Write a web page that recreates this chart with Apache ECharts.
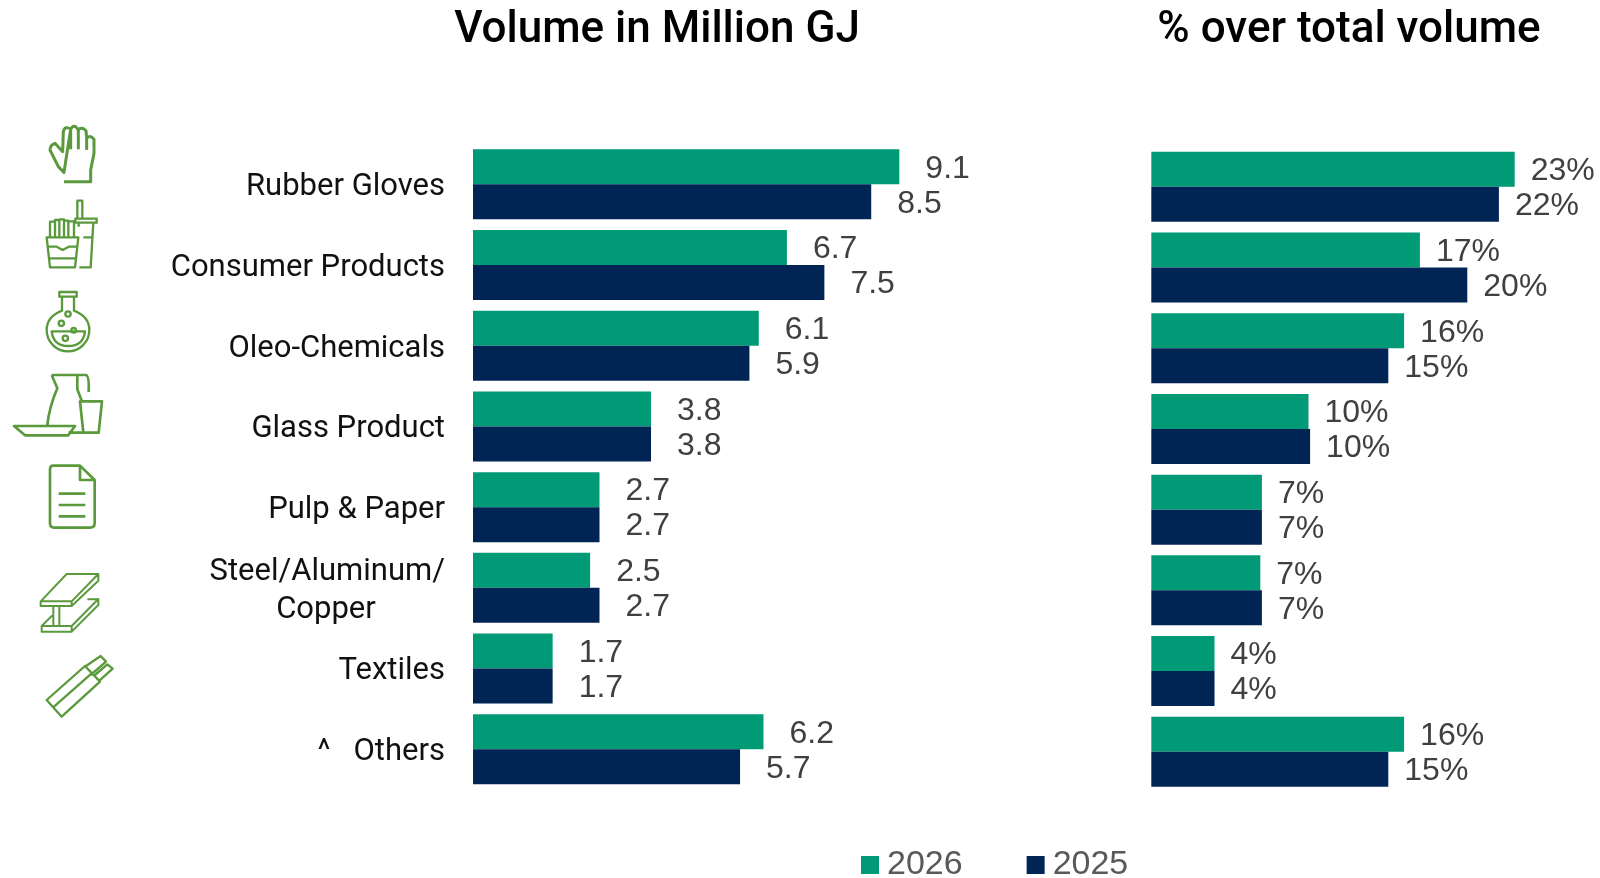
<!DOCTYPE html>
<html>
<head>
<meta charset="utf-8">
<style>
html, body { margin: 0; padding: 0; background: #fff; }
#chart { width: 1600px; height: 878px; }
</style>
<script src="https://cdn.jsdelivr.net/npm/echarts@6/dist/echarts.min.js"></script>
</head>
<body>
<div id="chart"></div>
<script>
// 数据
const categories = ['Rubber Gloves', 'Consumer Products', 'Oleo-Chemicals', 'Glass Product', 'Pulp & Paper', 'Steel/Aluminum/\nCopper         ', 'Textiles', '^   Others'];
const volume2026 = [9.1, 6.7, 6.1, 3.8, 2.7, 2.5, 1.7, 6.2];
const volume2025 = [8.5, 7.5, 5.9, 3.8, 2.7, 2.7, 1.7, 5.7];
const share2026 = [23, 17, 16, 9.95, 7, 6.9, 4, 16];
const share2025 = [22, 20, 15, 10.05, 7, 7, 4, 15];
const seriesNames = ['2026', '2025'];

const GREEN = '#009a76';
const NAVY = '#002554';
const ICON = '#5a9a3c';
const SANS = '"Liberation Sans", sans-serif';
const LABEL_FONT = 'Roboto, sans-serif';

const chart = echarts.init(document.getElementById('chart'));

// 图标：路径坐标是放大3倍后的裁剪坐标
let iconCount = 0;
function icon(d, ox, oy, lineWidth) {
    const type = 'icon' + iconCount++;
    echarts.graphic.registerShape(type, echarts.graphic.extendPath(d, {}));
    return {
        type: type,
        x: ox, y: oy, scaleX: 1 / 3, scaleY: 1 / 3,
        style: { fill: 'none', stroke: ICON, lineWidth: lineWidth || 9, lineJoin: 'round' },
        silent: true
    };
}
const icons = [
    icon('M192 215H272V180L282 130V88Q270 72 260 85V120M260 85L258 62Q245 48 235 60V118M235 60Q222 38 212 58V118M212 58Q195 45 190 65L188 125L165 100Q150 105 150 120L175 170L192 187Z', 0, 110),
    icon('M140 382H235L225 472H150ZM145 410H170L188 420L206 410H232M148 445H228M150 382V335H165V382M165 335V330H178V382M178 328H192V382M192 332H205V382M205 334H222V382M226 326H290V338H226ZM232 272H247V326H232ZM236 338V350M280 338L272 472H238M250 382H276', 0, 110, 7),
    icon('M178 546H230V560H178ZM186 560V602Q140 620 140 660A64 64 0 0 0 268 660Q268 620 222 602V560M155 664H255Q250 708 205 708Q160 708 155 664ZM196 612a8 8 0 1 0 16 0a8 8 0 1 0 -16 0M176 640a8 8 0 1 0 16 0a8 8 0 1 0 -16 0M214 661a7 7 0 1 0 14 0a7 7 0 1 0 -14 0M188 685a8 8 0 1 0 16 0a8 8 0 1 0 -16 0', 0, 110, 7),
    // 水壶和盘子，坐标取自 (0,360) 的裁剪
    icon('M155 45H258Q268 48 266 96M155 45L172 85Q148 140 142 195M232 45V88L245 122M240 124H306L296 218H250ZM42 198H225L205 226H75ZM205 218H250', 0, 360, 8),
    icon('M160 107H240L284 150V280Q284 293 270 293H162Q150 293 150 280V118Q150 107 160 107ZM240 107V150H284M176 191H256M176 225H256M176 259H256', 0, 430, 8),
    icon('M122 514L200 432H295L215 514ZM122 514V528H215V514M295 432V452L215 528M160 528V588M178 528V588M125 588V605H215V588ZM125 588L160 553M215 588L295 507V525L215 605M262 508H295', 0, 430, 6),
    icon('M140 810L255 708L300 755L185 860ZM162 830L275 730M258 708L302 678L318 695L272 735M285 735L322 703L338 716L298 752', 0, 430, 7)
];

const option = {
    animation: false,
    textStyle: { fontFamily: SANS },
    title: [
        { text: 'Volume in Million GJ', left: 652, top: 4, textAlign: 'center',
          textStyle: { fontFamily: LABEL_FONT, fontSize: 44, fontWeight: 500, color: '#000' } },
        { text: '% over total volume', left: 1344, top: 4, textAlign: 'center',
          textStyle: { fontFamily: LABEL_FONT, fontSize: 44, fontWeight: 500, color: '#000' } }
    ],
    legend: {
        data: seriesNames,
        left: 856, top: 843,
        icon: 'rect', itemWidth: 18, itemHeight: 18, itemGap: 64,
        textStyle: { fontFamily: SANS, fontSize: 34, color: '#595959', padding: [0, 0, 0, 3] }
    },
    grid: [
        { left: 473, top: 144, width: 468.5, height: 645.6 },
        { left: 1151.3, top: 146.5, width: 395, height: 645.6 },
        // 只放类目文字，比柱子低3px
        { left: 473, top: 147, width: 468.5, height: 645.6 }
    ],
    xAxis: [
        { type: 'value', gridIndex: 0, min: 0, max: 10, show: false },
        { type: 'value', gridIndex: 1, min: 0, max: 25, show: false },
        { type: 'value', gridIndex: 2, min: 0, max: 10, show: false }
    ],
    yAxis: [
        {
            type: 'category', gridIndex: 0, data: categories, inverse: true,
            axisLine: { show: false }, axisTick: { show: false }, axisLabel: { show: false }
        },
        {
            type: 'category', gridIndex: 1, data: categories, inverse: true,
            axisLine: { show: false }, axisTick: { show: false }, axisLabel: { show: false }
        },
        {
            type: 'category', gridIndex: 2, data: categories, inverse: true,
            axisLine: { show: false }, axisTick: { show: false },
            axisLabel: { fontFamily: LABEL_FONT, fontSize: 31, color: '#111', margin: 28, lineHeight: 38, align: 'right' }
        }
    ],
    series: [
        barSeries('2026', volume2026, GREEN, 0, 26, v => v.toFixed(1)),
        barSeries('2025', volume2025, NAVY, 0, 26, v => v.toFixed(1)),
        barSeries('2026', share2026, GREEN, 1, 16, v => Math.round(v) + '%'),
        barSeries('2025', share2025, NAVY, 1, 16, v => Math.round(v) + '%')
    ],
    graphic: icons
};

function barSeries(name, data, color, axisIndex, labelGap, fmt) {
    return {
        name: name,
        type: 'bar',
        xAxisIndex: axisIndex,
        yAxisIndex: axisIndex,
        data: data,
        barWidth: 35,
        barGap: 0,
        itemStyle: { color: color },
        label: {
            show: true,
            position: 'right',
            distance: labelGap,
            offset: [0, 2],
            fontFamily: SANS,
            fontSize: 32,
            color: '#404040',
            formatter: p => fmt(p.value)
        }
    };
}

chart.setOption(option);
</script>
</body>
</html>
